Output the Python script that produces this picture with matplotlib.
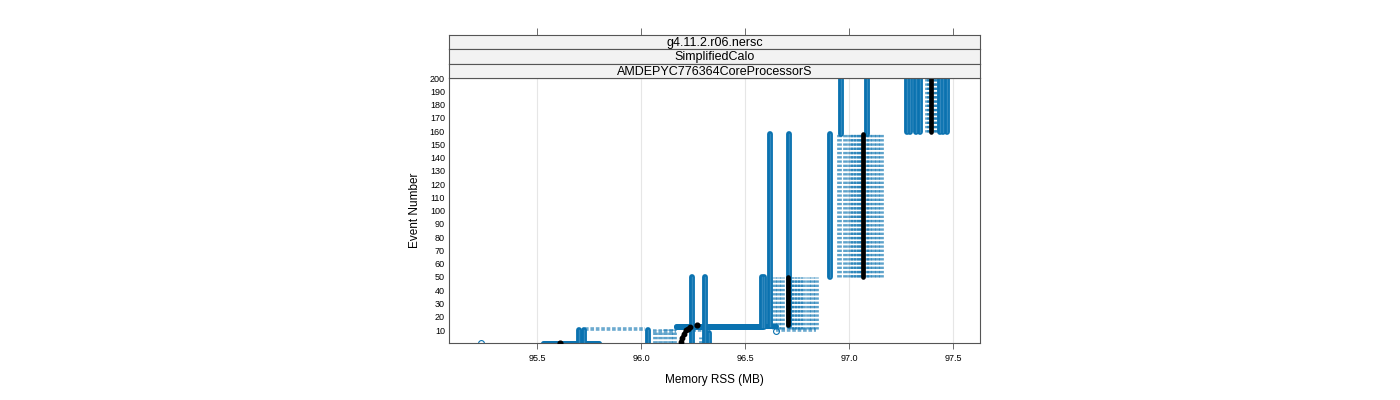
import numpy as np
import matplotlib
matplotlib.use('Agg')
import matplotlib.pyplot as plt

plt.rcParams['font.family'] = ['Liberation Sans', 'DejaVu Sans']

BLUE = '#0a72b0'

# strip labels (top to bottom)
strips = ['g4.11.2.r06.nersc', 'SimplifiedCalo', 'AMDEPYC776364CoreProcessorS']

# runs of constant RSS (MB) held from first to last event, dense samples
solid_rss = [95.702, 95.726, 96.034, 96.245, 96.308, 96.327,
             96.580, 96.592, 96.620, 96.712, 96.909, 96.962, 97.087,
             97.278, 97.292, 97.322, 97.342, 97.436, 97.452, 97.470]
solid_first = [0, 0, 0, 0, 0, 0,
               12, 12, 13, 13, 50, 158, 158,
               159, 159, 159, 159, 159, 159, 159]
solid_last = [10, 10, 10, 50, 50, 8,
              50, 50, 158, 158, 158, 200, 200,
              200, 200, 200, 200, 200, 200, 200]

# runs of constant RSS with sparse samples
light_rss = [96.067, 96.091, 96.115, 96.139, 96.160, 96.290,
             96.639, 96.659, 96.678, 96.721, 96.736, 96.750, 96.764,
             96.779, 96.803, 96.822, 96.841,
             96.952, 96.981, 97.005, 97.019, 97.034, 97.048, 97.058,
             97.082, 97.096, 97.115, 97.135, 97.154,
             97.377, 97.386, 97.409, 97.420]
light_first = [0, 0, 0, 0, 0, 0,
               11, 11, 11, 11, 11, 11, 11,
               11, 11, 11, 11,
               50, 50, 50, 50, 50, 50, 50,
               50, 50, 50, 50, 50,
               159, 159, 159, 159]
light_last = [10, 10, 11, 11, 11, 5,
              50, 50, 50, 50, 50, 50, 50,
              50, 50, 50, 50,
              158, 158, 158, 158, 158, 158, 158,
              158, 158, 158, 158, 158,
              200, 200, 200, 200]

# RSS spread within a single event
flat_event = [0, 13, 12]
flat_lo = [95.53, 96.17, 96.17]
flat_hi = [95.80, 96.65, 96.58]
flat_light_event = [11, 10, 9, 10]
flat_light_lo = [95.73, 96.65, 96.06, 96.22]
flat_light_hi = [96.02, 96.84, 96.17, 96.33]

# isolated samples
single_rss = [95.231, 96.649]
single_event = [0, 9]

# reference thread (black)
black_rss = [96.192, 96.197, 96.207, 96.216, 96.226, 96.236]
black_event = [1, 4, 7, 10, 11, 12]
black_dot_rss = [95.611, 96.270]
black_dot_event = [0, 14]
black_col_rss = [96.707, 97.067, 97.394]
black_col_first = [14, 50, 159]
black_col_last = [50, 158, 200]

xticks = [95.5, 96.0, 96.5, 97.0, 97.5]
yticks = list(range(10, 201, 10))

fig = plt.figure(figsize=(14, 4), dpi=100)
L, R, B, T = 449, 980, 343, 78
ax = fig.add_axes([L / 1400, 1 - B / 400, (R - L) / 1400, (B - T) / 400])
ax.set_xlim(95.077, 97.63)
ax.set_ylim(0.2, 200)

for x in xticks:
    ax.axvline(x, color='#e6e6e6', lw=0.8, zorder=0)

for x, a, b in zip(solid_rss, solid_first, solid_last):
    ax.plot([x, x], [a, b], color=BLUE, lw=4.2, solid_capstyle='round', zorder=2)
    ax.plot([x, x], [a, b], color='#4a97c8', lw=1.0, alpha=0.6, zorder=2.1)
for x, a, b in zip(light_rss, light_first, light_last):
    ax.plot([x, x], [a, b], color=BLUE, lw=3.4, alpha=0.65,
            ls=(0, (0.5, 0.4)), zorder=1)
for e, a, b in zip(flat_event, flat_lo, flat_hi):
    ax.plot([a, b], [e, e], color=BLUE, lw=3.6, solid_capstyle='round', zorder=2)
for e, a, b in zip(flat_light_event, flat_light_lo, flat_light_hi):
    ax.plot([a, b], [e, e], color=BLUE, lw=2.6, alpha=0.6,
            ls=(0, (1.0, 0.5)), zorder=1)
ax.plot(single_rss, single_event, 'o', mfc='none', mec=BLUE, ms=4.2, mew=0.8, zorder=2)

for x, a, b in zip(black_col_rss, black_col_first, black_col_last):
    ax.plot([x, x], [a, b], color='black', lw=3.4, solid_capstyle='round', zorder=4)
ax.plot(black_rss, black_event, 'o-', color='black', ms=3.2, lw=2.4, zorder=4)
ax.plot(black_dot_rss, black_dot_event, 'o', color='black', ms=3.4, zorder=4)

ax.set_xticks(xticks)
ax.set_xticklabels(['%.1f' % v for v in xticks], fontsize=6.5)
ax.set_yticks(yticks)
ax.set_yticklabels([str(v) for v in yticks], fontsize=6.5)
ax.tick_params(axis='x', direction='out', length=4, width=0.6, color='#555555', pad=4)
ax.tick_params(axis='y', length=0, pad=3)
for s in ax.spines.values():
    s.set_color('#555555')
    s.set_linewidth(0.8)
ax.set_xlabel('Memory RSS (MB)', fontsize=8.5, labelpad=8)
ax.set_ylabel('Event Number', fontsize=8.5, labelpad=6)

# strips
sh = 14.33
for i, name in enumerate(strips):
    top = 35 + i * sh
    sax = fig.add_axes([L / 1400, 1 - (top + sh) / 400, (R - L) / 1400, sh / 400])
    sax.set_facecolor('#f2f2f2')
    sax.set_xlim(ax.get_xlim())
    sax.set_yticks([])
    if i == 0:
        sax.set_xticks(xticks)
        sax.tick_params(axis='x', top=True, bottom=False, labeltop=False,
                        labelbottom=False, direction='out', length=5,
                        width=0.6, color='#555555')
    else:
        sax.set_xticks([])
    for s in sax.spines.values():
        s.set_color('#555555')
        s.set_linewidth(0.8)
    sax.text(0.5, 0.45, name, transform=sax.transAxes, ha='center', va='center',
             fontsize=9)

fig.savefig('out.png', dpi=100)
